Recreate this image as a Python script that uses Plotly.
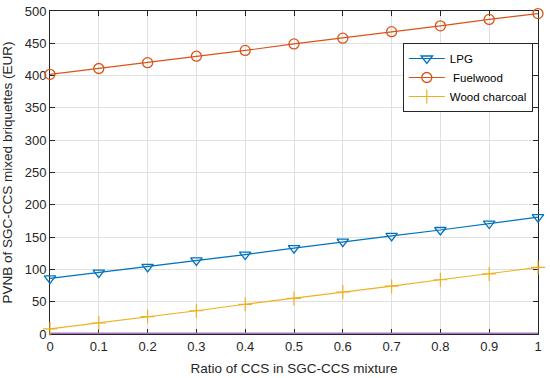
import plotly.graph_objects as go

ratio = [0, 0.1, 0.2, 0.3, 0.4, 0.5, 0.6, 0.7, 0.8, 0.9, 1.0]
lpg = [86, 95, 104, 114, 123, 133, 143, 152, 161, 171, 181]
fuelwood = [402, 411, 420, 430, 439, 449, 458, 468, 477, 487, 496]
charcoal = [8, 17, 27, 36, 46, 55, 65, 74, 84, 93, 103]
zero_line = [0, 0, 0, 0, 0, 0, 0, 0, 0, 0, 0]

x_ticks = [0, 0.1, 0.2, 0.3, 0.4, 0.5, 0.6, 0.7, 0.8, 0.9, 1]
x_tick_labels = ["0", "0.1", "0.2", "0.3", "0.4", "0.5", "0.6", "0.7", "0.8", "0.9", "1"]
y_ticks = [0, 50, 100, 150, 200, 250, 300, 350, 400, 450, 500]

fig = go.Figure()
fig.add_trace(go.Scatter(x=ratio, y=zero_line, mode="lines", line=dict(color="#A970BD", width=3),
                         showlegend=False, cliponaxis=False))
fig.add_trace(go.Scatter(x=ratio, y=lpg, mode="lines+markers", name="LPG",
                         line=dict(color="#0072BD", width=1.2), cliponaxis=False,
                         marker=dict(symbol="triangle-down-open", size=10, color="#0072BD", line=dict(width=1.3))))
fig.add_trace(go.Scatter(x=ratio, y=fuelwood, mode="lines+markers", name=" Fuelwood",
                         line=dict(color="#D95319", width=1.2), cliponaxis=False,
                         marker=dict(symbol="circle-open", size=10, color="#D95319", line=dict(width=1.3))))
fig.add_trace(go.Scatter(x=ratio, y=charcoal, mode="lines+markers", name="Wood charcoal",
                         line=dict(color="#EDB120", width=1.2), cliponaxis=False,
                         marker=dict(symbol="cross-thin-open", size=10, color="#EDB120", line=dict(width=1.2, color="#EDB120"))))

fig.update_layout(
    width=550, height=378,
    margin=dict(l=50, r=12, t=11, b=44),
    paper_bgcolor="white", plot_bgcolor="white",
    font=dict(family="Liberation Sans, Arial, sans-serif", size=13, color="#262626"),
    legend=dict(x=0.723, y=0.901, xanchor="left", yanchor="top",
                bgcolor="white", bordercolor="#262626", borderwidth=1,
                font=dict(size=11.5, color="black"), tracegroupgap=0, itemwidth=36),
    xaxis=dict(range=[0, 1], tickvals=x_ticks, ticktext=x_tick_labels,
               showgrid=True, gridcolor="#E0E0E0", gridwidth=1, layer="below traces",
               ticks="inside", ticklen=5, tickcolor="#262626",
               showline=True, linecolor="#262626", linewidth=1, mirror="ticks",
               zeroline=False, automargin=False, tickfont=dict(size=13),
               title=dict(text="Ratio of CCS in SGC-CCS mixture", font=dict(size=13.5), standoff=10)),
    yaxis=dict(range=[0, 500], tickvals=y_ticks,
               showgrid=True, gridcolor="#E0E0E0", gridwidth=1, layer="below traces",
               ticks="inside", ticklen=5, tickcolor="#262626",
               showline=True, linecolor="#262626", linewidth=1, mirror="ticks",
               zeroline=False, automargin=False, tickfont=dict(size=13),
               title=dict(text="PVNB of SGC-CCS mixed briquettes (EUR)", font=dict(size=13.5), standoff=8)),
)

fig.write_html("out.html", config={"displayModeBar": False},
               post_script="document.body.style.margin='0';")
